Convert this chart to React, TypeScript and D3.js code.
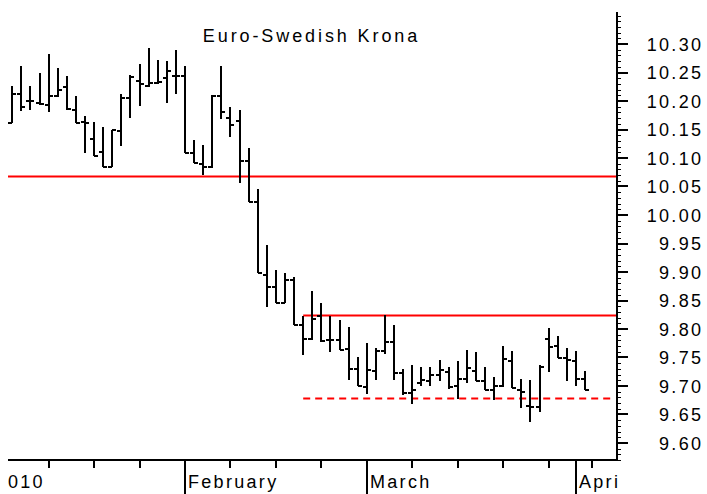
import React from "react";
import * as d3 from "d3";

// OHLC bars, one per trading day (Jan 5 2010 .. Apr 2 2010)
const opens = [10.162, 10.212, 10.2, 10.197, 10.193, 10.208, 10.225, 10.185, 10.163, 10.133, 10.11, 10.085, 10.148, 10.205, 10.235, 10.227, 10.232, 10.24, 10.243, 10.243, 10.108, 10.09, 10.084, 10.208, 10.17, 10.165, 10.094, 10.023, 9.895, 9.874, 9.845, 9.886, 9.807, 9.782, 9.822, 9.78, 9.78, 9.765, 9.729, 9.698, 9.727, 9.762, 9.778, 9.722, 9.687, 9.705, 9.709, 9.72, 9.725, 9.7, 9.712, 9.727, 9.708, 9.693, 9.7, 9.743, 9.693, 9.665, 9.663, 9.782, 9.77, 9.749, 9.743, 9.712];
const highs = [10.226, 10.261, 10.226, 10.249, 10.282, 10.258, 10.244, 10.208, 10.173, 10.164, 10.155, 10.15, 10.212, 10.246, 10.265, 10.293, 10.272, 10.271, 10.289, 10.261, 10.132, 10.123, 10.21, 10.261, 10.19, 10.184, 10.117, 10.045, 9.947, 9.904, 9.898, 9.891, 9.823, 9.867, 9.846, 9.823, 9.815, 9.804, 9.751, 9.776, 9.766, 9.825, 9.807, 9.729, 9.737, 9.733, 9.733, 9.746, 9.733, 9.743, 9.763, 9.76, 9.734, 9.716, 9.77, 9.762, 9.713, 9.711, 9.737, 9.801, 9.787, 9.766, 9.762, 9.727];
const lows = [10.161, 10.183, 10.184, 10.193, 10.181, 10.207, 10.185, 10.161, 10.108, 10.104, 10.084, 10.084, 10.121, 10.171, 10.192, 10.225, 10.23, 10.196, 10.213, 10.108, 10.091, 10.07, 10.083, 10.168, 10.136, 10.056, 10.023, 9.898, 9.839, 9.845, 9.845, 9.807, 9.754, 9.78, 9.778, 9.76, 9.763, 9.711, 9.7, 9.686, 9.711, 9.756, 9.711, 9.685, 9.668, 9.7, 9.7, 9.708, 9.694, 9.677, 9.705, 9.708, 9.693, 9.675, 9.698, 9.696, 9.661, 9.636, 9.654, 9.725, 9.749, 9.708, 9.7, 9.693];
const closes = [10.212, 10.19, 10.2, 10.195, 10.208, 10.22, 10.186, 10.161, 10.162, 10.104, 10.084, 10.149, 10.205, 10.242, 10.229, 10.232, 10.234, 10.253, 10.243, 10.108, 10.091, 10.084, 10.208, 10.181, 10.158, 10.094, 10.023, 9.898, 9.874, 9.845, 9.886, 9.807, 9.782, 9.817, 9.779, 9.78, 9.764, 9.729, 9.7, 9.728, 9.762, 9.778, 9.722, 9.687, 9.693, 9.71, 9.719, 9.728, 9.698, 9.712, 9.731, 9.708, 9.693, 9.7, 9.747, 9.696, 9.69, 9.664, 9.733, 9.769, 9.749, 9.746, 9.712, 9.693];

const yTickValues = [10.3, 10.25, 10.2, 10.15, 10.1, 10.05, 10.0, 9.95, 9.9, 9.85, 9.8, 9.75, 9.7, 9.65, 9.6];
const yTickLabels = ["10.30", "10.25", "10.20", "10.15", "10.10", "10.05", "10.00", "9.95", "9.90", "9.85", "9.80", "9.75", "9.70", "9.65", "9.60"];

const monthLabels = ["010", "February", "March", "Apri"];
const monthIndex = [-0.8, 19, 39, 62];
const weekIndex = [4, 9, 14, 24, 29, 34, 44, 49, 54, 59, 63.75];

const solidLevels = [10.069, 9.824];
const solidStartIndex = [null, 32];
const dashedLevel = 9.679;
const dashedStartIndex = 32;

const title = "Euro-Swedish Krona";

const W = 707;
const H = 494;
const left = 8;
const axisX = 617;
const axisY = 460;
const axisTop = 12;

export default function App() {
  const x = d3.scaleLinear().domain([0, 63]).range([12.3, 585]);
  const y = d3.scaleLinear().domain([9.6, 10.3]).range([443, 44]);
  const minorTicks = d3.range(957, 1036).map((v) => v / 100);
  const font = "Arial, 'Liberation Sans', sans-serif";
  const fs = 18;
  const ls = 2.3;

  return (
    <svg width={W} height={H} style={{ position: "absolute", left: 0, top: 0, background: "#fff" }}>
      <rect width={W} height={H} fill="#fff" />
      {/* title */}
      <text x={310 + 1.5} y={42} textAnchor="middle" fontFamily={font} fontSize={fs} letterSpacing={2.9} fill="#000">
        {title}
      </text>

      {/* reference lines */}
      {solidLevels.map((v, i) => (
        <line
          key={"s" + i}
          x1={solidStartIndex[i] == null ? left : x(solidStartIndex[i] as number)}
          x2={axisX}
          y1={Math.round(y(v)) + 0.5}
          y2={Math.round(y(v)) + 0.5}
          stroke="#ff0000"
          strokeWidth={1.8}
        />
      ))}
      <line
        x1={x(dashedStartIndex)}
        x2={axisX - 2}
        y1={Math.round(y(dashedLevel)) + 0.5}
        y2={Math.round(y(dashedLevel)) + 0.5}
        stroke="#ff0000"
        strokeWidth={1.8}
        strokeDasharray="7,5"
      />

      {/* OHLC bars */}
      <g stroke="#000" strokeWidth={2} shapeRendering="crispEdges">
        {opens.map((o, i) => {
          const cx = Math.round(x(i));
          return (
            <g key={i}>
              <line x1={cx} x2={cx} y1={Math.round(y(highs[i]))} y2={Math.round(y(lows[i]))} />
              <line x1={cx - 4} x2={cx} y1={Math.round(y(o))} y2={Math.round(y(o))} />
              <line x1={cx} x2={cx + 4} y1={Math.round(y(closes[i]))} y2={Math.round(y(closes[i]))} />
            </g>
          );
        })}
      </g>

      {/* x axis */}
      <g stroke="#000" strokeWidth={2} shapeRendering="crispEdges">
        <line x1={left} x2={axisX} y1={axisY} y2={axisY} />
        {weekIndex.map((d, i) => (
          <line key={"w" + i} x1={Math.round(x(d))} x2={Math.round(x(d))} y1={axisY} y2={axisY + 8} />
        ))}
        {monthIndex
          .filter((d) => x(d) >= left)
          .map((d, i) => (
            <line key={"m" + i} x1={Math.round(x(d))} x2={Math.round(x(d))} y1={axisY} y2={H} />
          ))}
      </g>
      {monthLabels.map((m, i) => (
        <text
          key={"ml" + i}
          x={Math.max(left, Math.round(x(monthIndex[i])) + 3)}
          y={488}
          fontFamily={font}
          fontSize={fs}
          letterSpacing={ls}
          fill="#000"
        >
          {m}
        </text>
      ))}

      {/* y axis */}
      <g stroke="#000" strokeWidth={2} shapeRendering="crispEdges">
        <line x1={axisX} x2={axisX} y1={axisTop} y2={axisY} />
        {minorTicks.map((v, i) => (
          <line key={"mt" + i} x1={axisX} x2={axisX + 4} y1={Math.round(y(v))} y2={Math.round(y(v))} strokeWidth={1} />
        ))}
        {yTickValues.map((v, i) => (
          <line key={"yt" + i} x1={axisX} x2={axisX + 11} y1={Math.round(y(v))} y2={Math.round(y(v))} />
        ))}
      </g>
      {yTickValues.map((v, i) => (
        <text
          key={"yl" + i}
          x={701 + ls}
          y={y(v) + 6.5}
          textAnchor="end"
          fontFamily={font}
          fontSize={fs}
          letterSpacing={ls}
          fill="#000"
        >
          {yTickLabels[i]}
        </text>
      ))}
    </svg>
  );
}
